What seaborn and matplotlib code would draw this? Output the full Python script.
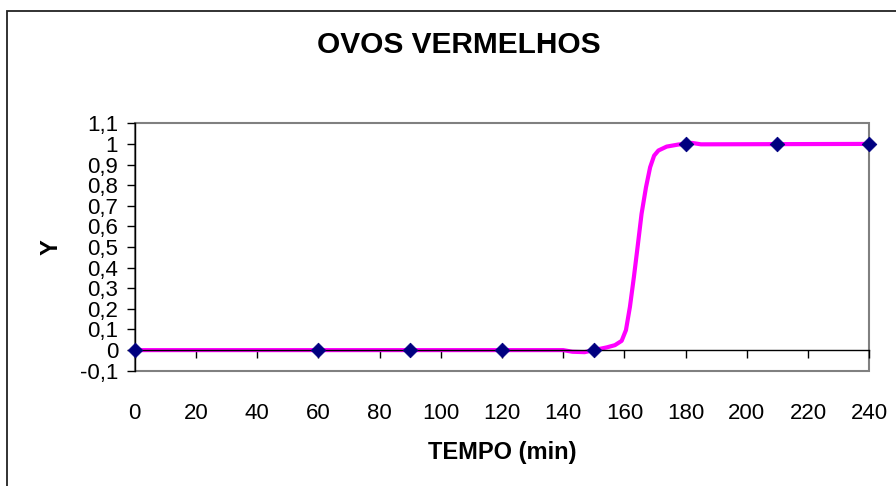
import matplotlib
matplotlib.use("Agg")
import matplotlib.pyplot as plt
from matplotlib.patches import Rectangle
import seaborn as sns
import pandas as pd

# measured points (diamonds)
tempo = [0, 60, 90, 120, 150, 180, 210, 240]
y_obs = [0, 0, 0, 0, 0, 1, 1, 1]

# smoothed curve
curve_t = [0, 140, 143, 147, 150, 154.2, 156.9, 159.1, 160.5, 161.8, 163.1,
           164.3, 165.6, 167.05, 168.4, 169.7, 171.1, 173.8, 177.6, 180, 182,
           185, 240]
curve_y = [0, 0, -0.008, -0.01, 0, 0.013, 0.024, 0.045, 0.097, 0.21, 0.355,
           0.5, 0.661, 0.79, 0.887, 0.943, 0.968, 0.987, 0.997, 1.0, 1.005,
           0.998, 1.0]

x_ticks = list(range(0, 241, 20))
y_ticks = [-0.1, 0, 0.1, 0.2, 0.3, 0.4, 0.5, 0.6, 0.7, 0.8, 0.9, 1.0, 1.1]
y_labels = ["-0,1", "0", "0,1", "0,2", "0,3", "0,4", "0,5", "0,6", "0,7",
            "0,8", "0,9", "1", "1,1"]

sns.set_theme(style="white")
plt.rcParams['font.family'] = ['Liberation Sans', 'DejaVu Sans']
plt.rcParams['text.color'] = 'black'
plt.rcParams['axes.labelcolor'] = 'black'
plt.rcParams['xtick.color'] = 'black'
plt.rcParams['ytick.color'] = 'black'

fig = plt.figure(figsize=(8.96, 4.86), dpi=100)
ax = fig.add_axes([0.1503, 0.2372, 0.8199, 0.5091])

# outer chart frame (only left and top edges visible)
fig.add_artist(Rectangle((7 / 896, -0.2), 1.2, (486 - 11) / 486 + 0.2,
                         transform=fig.transFigure, fill=False,
                         edgecolor="#222222", linewidth=1.3))

df_curve = pd.DataFrame({"t": curve_t, "y": curve_y})
df_obs = pd.DataFrame({"t": tempo, "y": y_obs})

sns.lineplot(data=df_curve, x="t", y="y", ax=ax, color="#FF00FF",
             linewidth=3, sort=False)
sns.scatterplot(data=df_obs, x="t", y="y", ax=ax, marker="D", s=55,
                color="#000080", edgecolor="#000080", zorder=5, clip_on=False)

ax.set_xlim(0, 240)
ax.set_ylim(-0.1, 1.1)

# plot area box in gray, x axis crossing at y=0
ax.patch.set_edgecolor("#808080")
ax.patch.set_linewidth(1.5)
for s in ["top", "right"]:
    ax.spines[s].set_visible(False)
ax.spines["bottom"].set_position(("data", 0))
ax.spines["bottom"].set_color("black")
ax.spines["bottom"].set_linewidth(1)
ax.spines["left"].set_color("black")
ax.spines["left"].set_linewidth(1)

ax.set_xticks(x_ticks)
ax.set_yticks(y_ticks, y_labels)
ax.tick_params(axis="x", direction="out", length=6, width=1, color="black",
               labelsize=16, pad=32)
ax.tick_params(axis="y", direction="out", length=6, width=1, color="black",
               labelsize=16, pad=6)
ax.tick_params(bottom=True, left=True)

ax.set_xlabel("TEMPO (min)", fontsize=17, fontweight="bold", labelpad=12)
ax.set_ylabel("Y", fontsize=17, fontweight="bold", labelpad=12)

fig.text(459 / 896, 1 - 45 / 486, "OVOS VERMELHOS", ha="center", va="center",
         fontsize=21.5, fontweight="bold")

fig.savefig("out.png", dpi=100)
